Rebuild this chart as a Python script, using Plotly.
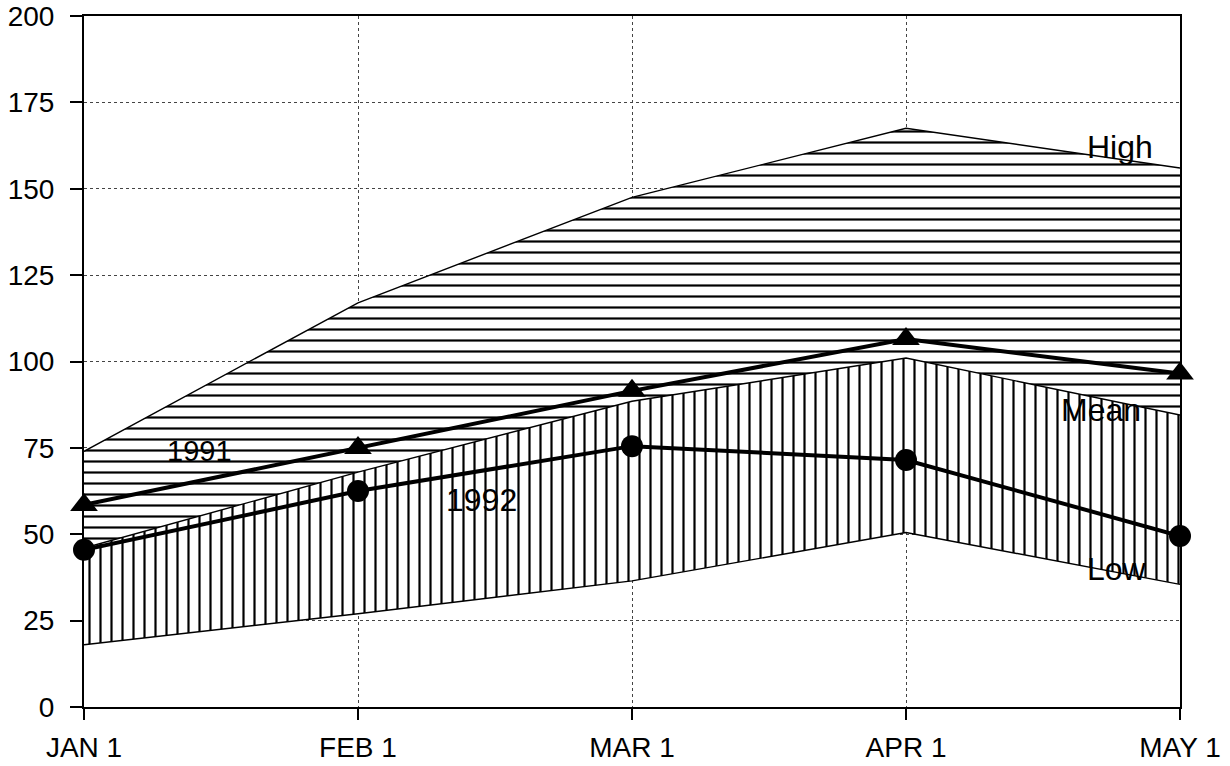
import plotly.graph_objects as go

months = ["JAN 1", "FEB 1", "MAR 1", "APR 1", "MAY 1"]
high = [74, 117, 147.5, 167.5, 156]
mean = [46, 68, 88.5, 101, 84.5]
low = [18, 27, 36.5, 50.5, 35.5]
y1991 = [58.5, 75, 91.5, 106.5, 96.5]
y1992 = [45.5, 62.5, 75.5, 71.5, 49.5]
y_ticks = [0, 25, 50, 75, 100, 125, 150, 175, 200]

FONT = "Liberation Sans, Arial, Helvetica, sans-serif"

fig = go.Figure()

fig.add_trace(go.Scatter(x=months, y=low, mode="lines",
                         line=dict(color="black", width=1.4),
                         showlegend=False, hoverinfo="skip"))
fig.add_trace(go.Scatter(x=months, y=mean, mode="lines", fill="tonexty",
                         fillcolor="white",
                         fillpattern=dict(shape="|", size=11, solidity=0.2,
                                          fgcolor="black", fgopacity=1,
                                          bgcolor="white", fillmode="replace"),
                         line=dict(color="black", width=1.4),
                         showlegend=False, hoverinfo="skip"))
fig.add_trace(go.Scatter(x=months, y=high, mode="lines", fill="tonexty",
                         fillcolor="white",
                         fillpattern=dict(shape="-", size=11, solidity=0.2,
                                          fgcolor="black", fgopacity=1,
                                          bgcolor="white", fillmode="replace"),
                         line=dict(color="black", width=1.4),
                         showlegend=False, hoverinfo="skip"))
fig.add_trace(go.Scatter(x=months, y=y1991, mode="lines+markers",
                         line=dict(color="black", width=4),
                         marker=dict(symbol="triangle-up", size=24, color="black"),
                         cliponaxis=False, showlegend=False))
fig.add_trace(go.Scatter(x=months, y=y1992, mode="lines+markers",
                         line=dict(color="black", width=4),
                         marker=dict(symbol="circle", size=22, color="black"),
                         cliponaxis=False, showlegend=False))

for text, ax, ay, fs in [("High", 3.78, 162, 32), ("Mean", 3.71, 86, 32),
                         ("Low", 3.77, 40, 32), ("1991", 0.42, 74, 29),
                         ("1992", 1.45, 60, 32)]:
    fig.add_annotation(x=ax, y=ay, text=text, showarrow=False,
                       font=dict(family=FONT, size=fs, color="black"),
                       xanchor="center", yanchor="middle")

tick_font = dict(family=FONT, size=28, color="black")
fig.update_layout(
    width=1230, height=766,
    margin=dict(l=84, r=50, t=16, b=59, autoexpand=False),
    paper_bgcolor="white", plot_bgcolor="white",
    font=dict(family=FONT, size=28, color="black"),
    xaxis=dict(type="category", range=[0, 4], showline=True, linecolor="black",
               linewidth=2, mirror=True, ticks="outside", ticklen=11,
               tickwidth=2, tickcolor="black", showgrid=True, gridcolor="#444",
               griddash="dot", gridwidth=1, zeroline=False, automargin=False,
               ticklabelstandoff=3, ticklabeloverflow="allow", tickfont=tick_font),
    yaxis=dict(range=[0, 200], tickvals=y_ticks, showline=True, linecolor="black",
               linewidth=2, mirror=True, ticks="outside", ticklen=12,
               tickwidth=2, tickcolor="black", showgrid=True, gridcolor="#444",
               griddash="dot", gridwidth=1, zeroline=False, automargin=False,
               ticklabelstandoff=10, ticklabeloverflow="allow", tickfont=tick_font),
)

fig.write_html("out.html", config={"displayModeBar": False},
               post_script="document.body.style.margin='0';document.body.style.overflow='hidden';")
